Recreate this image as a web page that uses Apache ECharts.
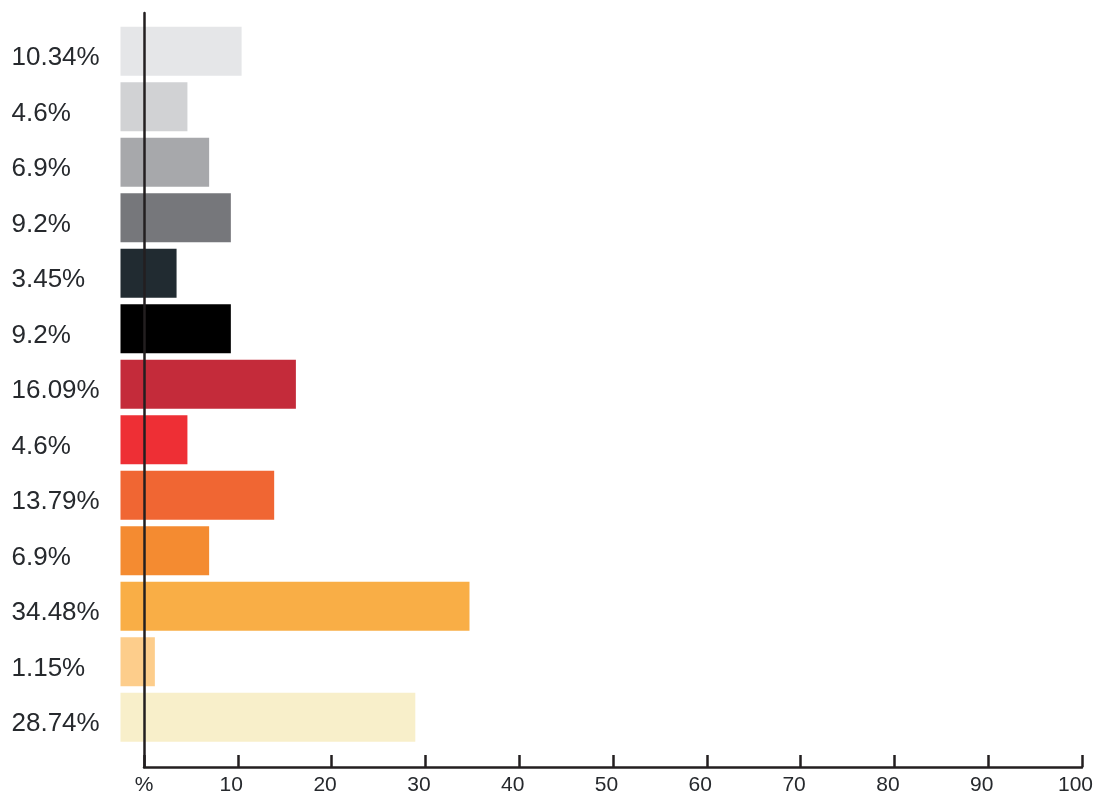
<!DOCTYPE html>
<html>
<head>
<meta charset="utf-8">
<script src="https://cdn.jsdelivr.net/npm/echarts@6/dist/echarts.min.js"></script>
<style>
  html, body { margin: 0; padding: 0; background: #ffffff; }
  #chart { width: 1096px; height: 796px; }
</style>
</head>
<body>
<div id="chart"></div>
<script>
// Category labels (top to bottom) and the share each bar represents
const categories = ['10.34%', '4.6%', '6.9%', '9.2%', '3.45%', '9.2%', '16.09%', '4.6%', '13.79%', '6.9%', '34.48%', '1.15%', '28.74%'];
const values = [10.34, 4.6, 6.9, 9.2, 3.45, 9.2, 16.09, 4.6, 13.79, 6.9, 34.48, 1.15, 28.74];
const barColors = ['#e5e6e8', '#d1d2d4', '#a7a8ab', '#76777b', '#212b31', '#000000', '#c42b3a', '#ee2f35', '#f06633', '#f48b31', '#f9ae46', '#fdcd8b', '#f8efca'];
// Value-axis tick labels: the zero tick carries the unit
const zeroTickLabel = '%';

const inkColor = '#26292d';
const lineColor = '#231f20';
const font = 'Liberation Sans, Arial, Helvetica, sans-serif';

const chart = echarts.init(document.getElementById('chart'), null, { renderer: 'canvas' });

// Bars reach a little to the left of the zero line, then run to their value.
function renderBar(params, api) {
  const idx = api.value(1);
  const start = api.coord([0, idx]);
  const end = api.coord([api.value(0), idx]);
  const h = api.size([0, 1])[1] * 0.883;
  const lead = 23.5;
  return {
    type: 'rect',
    shape: { x: start[0] - lead, y: start[1] - h / 2, width: end[0] - start[0] + lead, height: h },
    style: { fill: barColors[params.dataIndex] }
  };
}

chart.setOption({
  animation: false,
  backgroundColor: '#ffffff',
  grid: [
    { left: 144, right: 8, top: 23.5, bottom: 51 },
    { left: 144, right: 8, top: 13, bottom: 27 }
  ],
  xAxis: [
    { gridIndex: 0, type: 'value', min: 0, max: 100, show: false },
    {
      gridIndex: 1, type: 'value', min: 0, max: 100, interval: 10,
      axisLine: { show: true, onZero: false, lineStyle: { color: lineColor, width: 2.5 } },
      axisTick: { show: true, inside: true, length: 12, lineStyle: { color: lineColor, width: 2.5 } },
      splitLine: { show: false },
      axisLabel: {
        show: true, margin: 8, color: inkColor, fontSize: 21, fontFamily: font,
        padding: [0, 13, 0, 0],
        formatter: v => v === 0 ? '{p|' + zeroTickLabel + '}' : String(v),
        rich: { p: { fontSize: 21, fontFamily: font, color: inkColor, padding: [0, 0, 0, 13] } }
      },
      z: 10
    }
  ],
  yAxis: [
    {
      gridIndex: 0, type: 'category', inverse: true, data: categories,
      axisLine: { show: false }, axisTick: { show: false }, splitLine: { show: false },
      axisLabel: {
        show: true, align: 'left', verticalAlign: 'top', lineHeight: 14,
        margin: 132.5, color: inkColor, fontSize: 26, fontFamily: font
      }
    },
    {
      gridIndex: 1, type: 'value', min: 0, max: 1,
      axisLine: { show: true, onZero: false, lineStyle: { color: lineColor, width: 2.5 } },
      axisTick: { show: false }, axisLabel: { show: false }, splitLine: { show: false },
      z: 10
    }
  ],
  series: [
    {
      type: 'custom',
      xAxisIndex: 0, yAxisIndex: 0,
      renderItem: renderBar,
      encode: { x: 0, y: 1 },
      data: values.map((v, i) => [v, i]),
      clip: false,
      z: 2
    }
  ]
});
</script>
</body>
</html>
